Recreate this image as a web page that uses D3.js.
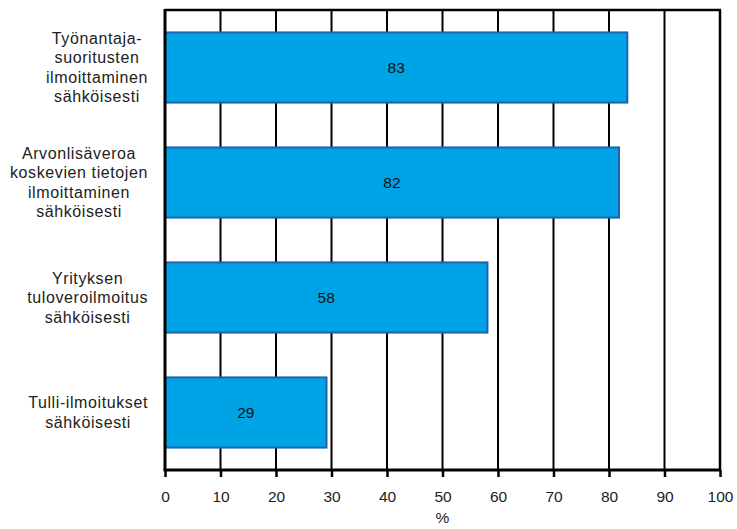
<!DOCTYPE html>
<html><head><meta charset="utf-8">
<script src="https://cdn.jsdelivr.net/npm/d3@7"></script>
<style>body{margin:0;background:#fff;}svg{display:block;font-family:"Liberation Sans",Arial,sans-serif;}</style>
</head><body>
<svg id="c" width="737" height="529"></svg>
<script>
const categories = [
  ["Työnantaja-","suoritusten","ilmoittaminen","sähköisesti"],
  ["Arvonlisäveroa","koskevien tietojen","ilmoittaminen","sähköisesti"],
  ["Yrityksen","tuloveroilmoitus","sähköisesti"],
  ["Tulli-ilmoitukset","sähköisesti"]
];
const values = [83.3, 81.8, 58.1, 29.1];
const valueLabels = ["83", "82", "58", "29"];
const xTicks = [0,10,20,30,40,50,60,70,80,90,100];
const xTitle = "%";

const svg = d3.select("#c");
const L = 165, R = 720, T = 10, B = 470;
const x = d3.scaleLinear().domain([0,100]).range([L,R]);
const y = d3.scaleBand().domain(d3.range(categories.length)).range([T,B]).paddingInner(0.39).paddingOuter(0.195);

// gridlines
svg.append("g").selectAll("line").data(xTicks.slice(1)).join("line")
  .attr("x1", d=>x(d)).attr("x2", d=>x(d)).attr("y1", T).attr("y2", B)
  .attr("stroke","#000").attr("stroke-width", d=> d===100 ? 2.5 : 2);
// top border
svg.append("line").attr("x1",L).attr("x2",R+1).attr("y1",T).attr("y2",T).attr("stroke","#000").attr("stroke-width",2.5);

// bars
svg.append("g").selectAll("rect").data(values).join("rect")
  .attr("x", x(0)).attr("y", (d,i)=>y(i))
  .attr("width", d=>x(d)-x(0)).attr("height", y.bandwidth())
  .attr("fill","#00a3e6").attr("stroke","#1f63b0").attr("stroke-width",2);

// value labels
svg.append("g").selectAll("text").data(values).join("text")
  .attr("x", d=>(x(0)+x(d))/2).attr("y",(d,i)=>y(i)+y.bandwidth()/2)
  .attr("dy","0.35em").attr("text-anchor","middle").attr("font-size",15.5).attr("fill","#111")
  .text((d,i)=>valueLabels[i]);

// x axis
const xa = svg.append("g").attr("transform",`translate(0,${B})`)
  .call(d3.axisBottom(x).tickValues(xTicks).tickSize(7).tickPadding(14).tickFormat(d3.format("d")));
xa.select(".domain").attr("stroke","#000").attr("stroke-width",3).attr("d",`M${L-1.5},0H${R+1}`);
xa.selectAll(".tick line").attr("stroke","#000").attr("stroke-width",2.5);
xa.selectAll(".tick text").attr("font-size",15.5).attr("fill","#222").attr("font-family","Liberation Sans, Arial, sans-serif");

// y axis line
svg.append("line").attr("x1",L).attr("x2",L).attr("y1",T-1).attr("y2",B).attr("stroke","#000").attr("stroke-width",3);

// category labels: each block centred on its longest line, which ends at a common right edge
const lh = 19.5, rightEdge = 148;
const cg = svg.append("g");
categories.forEach((lines,i)=>{
  const cy = y(i)+y.bandwidth()/2;
  const t = cg.append("text").attr("text-anchor","middle").attr("font-size",16)
    .attr("letter-spacing","0.6px").attr("fill","#222");
  const spans = lines.map((ln,j)=> t.append("tspan")
    .attr("y", cy + (j-(lines.length-1)/2)*lh).attr("dy","0.35em").text(ln));
  const w = d3.max(spans, s=>s.node().getComputedTextLength());
  spans.forEach(s=>s.attr("x", rightEdge - w/2));
});

// x title
svg.append("text").attr("x",(L+R)/2).attr("y",518).attr("dy","0.35em").attr("text-anchor","middle")
  .attr("font-size",15.5).attr("fill","#222").text(xTitle);
</script>
</body></html>
